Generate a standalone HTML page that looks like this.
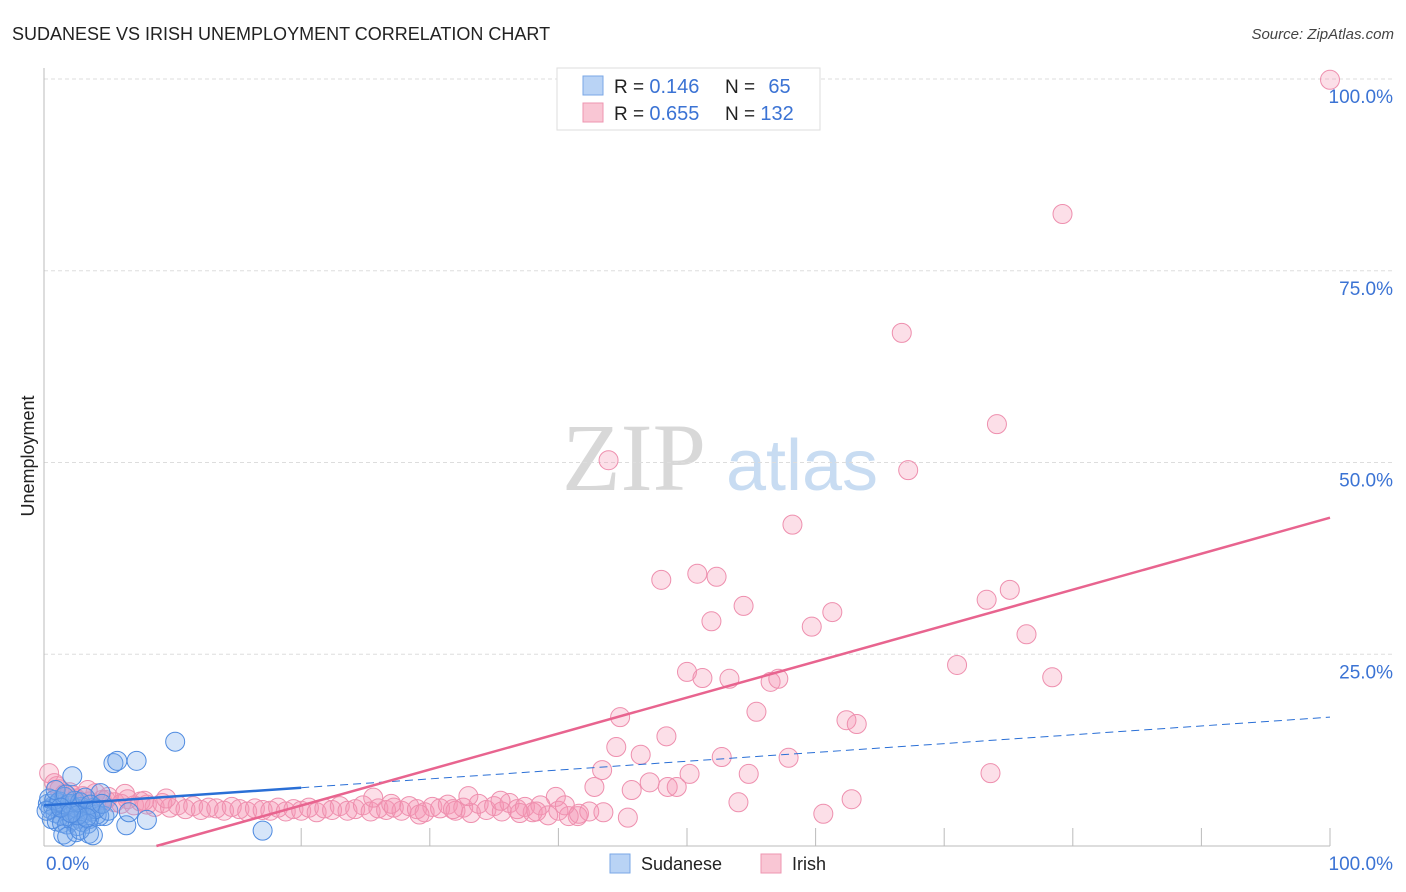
<!DOCTYPE html>
<html><head><meta charset="utf-8"><style>
body{margin:0;background:#fff;font-family:"Liberation Sans",sans-serif;}
svg{display:block}
</style></head><body>
<svg id="c" width="1406" height="892">
<text x="12" y="40" font-size="18" fill="#222">SUDANESE VS IRISH UNEMPLOYMENT CORRELATION CHART</text>
<text x="1394" y="39" font-size="15" fill="#444" font-style="italic" text-anchor="end">Source: ZipAtlas.com</text>
<text x="34" y="456" font-size="18" fill="#222" transform="rotate(-90 34 456)" text-anchor="middle">Unemployment</text>
<text x="634" y="490" font-size="96" fill="#d8d8d8" font-family="Liberation Serif,serif" text-anchor="middle">ZIP</text>
<text x="802" y="490" font-size="72" fill="#c8dcf2" text-anchor="middle">atlas</text>
<g id="grid"></g><g id="pts"></g><g id="lines"></g>
<g>
<rect x="557" y="68" width="263" height="62" fill="#fff" stroke="#ddd"/>
<rect x="583" y="76" width="20" height="19" fill="#b9d3f5" stroke="#7aa7e6"/>
<rect x="583" y="103" width="20" height="19" fill="#f9c6d4" stroke="#ee95b0"/>
<text x="614" y="93" font-size="19" fill="#222">R = <tspan fill="#3b73d4" font-size="20">0.146</tspan></text>
<text x="725" y="93" font-size="19" fill="#222">N = <tspan fill="#3b73d4" dx="8" font-size="20">65</tspan></text>
<text x="614" y="120" font-size="19" fill="#222">R = <tspan fill="#3b73d4" font-size="20">0.655</tspan></text>
<text x="725" y="120" font-size="19" fill="#222">N = <tspan fill="#3b73d4" font-size="20">132</tspan></text>
</g>
<g>
<rect x="610" y="854" width="20" height="19" fill="#b9d3f5" stroke="#7aa7e6"/>
<text x="641" y="870" font-size="18" fill="#222">Sudanese</text>
<rect x="761" y="854" width="20" height="19" fill="#f9c6d4" stroke="#ee95b0"/>
<text x="792" y="870" font-size="18" fill="#222">Irish</text>
</g>
</svg>
<script>
const yTicks=[25,50,75,100];
const yTickLabels=["25.0%","50.0%","75.0%","100.0%"];
const xTickLabels=["0.0%","100.0%"];
const irishX=[100,79.2,66.7,74.1,67.2,43.9,58.2,48.0,50.8,52.3,54.4,51.9,61.3,59.7,73.3,75.1,76.4,71.0,78.4,50.0,51.2,53.3,56.5,57.1,55.4,44.8,48.4,62.4,63.2,44.5,46.4,52.7,57.9,43.4,54.8,50.2,73.6,47.1,45.7,48.5,49.2,42.8,54.0,62.8,60.6,45.4,39.8,41.5,
0.4,0.8,1.2,1.6,2.0,2.5,3.0,3.5,4.0,4.5,5.0,5.5,6.0,6.5,7.0,7.5,8.0,8.6,9.2,9.8,10.4,11.0,11.6,12.2,12.8,13.4,14.0,14.6,15.2,15.8,16.4,17.0,17.6,18.2,18.8,19.4,20.0,20.6,21.2,21.8,22.4,23.0,23.6,24.2,24.8,25.4,26.0,26.6,27.2,27.8,28.4,29.0,29.6,30.2,30.8,31.4,32.0,32.6,33.2,33.8,34.4,35.0,35.6,36.2,36.8,37.4,38.0,38.6,39.2,40.0,40.8,41.6,42.4,1.0,2.2,3.4,4.8,6.3,7.8,9.5,29.2,33.0,37.0,35.5,25.6,38.3,40.5,31.8,27.0,43.5];
const irishY=[99.9,82.4,66.9,55.0,49.0,50.3,41.9,34.7,35.5,35.1,31.3,29.3,30.5,28.6,32.1,33.4,27.6,23.6,22.0,22.7,21.9,21.8,21.4,21.8,17.5,16.8,14.3,16.4,15.9,12.9,11.9,11.6,11.5,9.9,9.4,9.4,9.5,8.3,7.3,7.7,7.7,7.7,5.7,6.1,4.2,3.7,6.4,3.9,
9.5,8.2,7.4,6.8,7.0,6.2,6.5,5.8,6.9,6.0,6.4,5.7,5.5,6.1,5.3,5.8,5.4,5.1,5.6,5.0,5.3,4.8,5.2,4.7,5.0,4.9,4.6,5.1,4.8,4.5,4.9,4.7,4.6,5.0,4.5,4.8,4.6,5.0,4.4,4.9,4.7,5.2,4.6,4.8,5.3,4.5,4.9,4.7,5.0,4.6,5.2,4.8,4.4,5.1,4.9,5.4,4.6,5.0,4.3,5.5,4.7,5.2,4.5,5.6,4.8,5.1,4.4,5.3,4.0,4.6,3.9,4.2,4.5,7.8,6.6,7.3,6.0,6.8,5.9,6.2,4.1,6.5,4.3,5.9,6.3,4.5,5.3,4.8,5.5,4.4];
const sudX=[10.2,5.4,5.7,7.2,17.0,6.4,8.0,2.2,4.4,6.6,4.7,0.3,0.5,0.7,0.9,1.1,1.3,1.5,1.7,1.9,2.1,2.3,2.5,2.7,2.9,3.1,3.3,3.5,3.7,3.9,4.1,4.3,0.4,0.8,1.2,1.6,2.0,2.4,2.8,3.2,3.6,4.0,0.6,1.0,1.4,1.8,2.2,2.6,3.0,3.4,1.5,2.5,3.5,1.8,2.8,3.8,0.2,0.9,1.7,2.6,3.3,4.5,5.0,1.3,2.1];
const sudY=[13.6,10.8,11.1,11.1,2.0,2.7,3.4,9.1,6.9,4.4,3.9,5.5,4.8,5.2,4.3,5.6,4.0,5.0,4.6,3.8,5.3,4.4,4.9,3.6,5.1,4.2,4.7,3.5,4.5,5.0,4.1,3.9,6.2,6.0,5.8,6.4,5.5,5.9,5.7,6.3,5.4,4.8,3.5,3.2,3.0,2.8,3.3,2.6,3.1,2.9,1.5,1.8,1.6,1.2,2.1,1.4,4.6,7.3,6.7,4.0,3.7,5.5,4.6,5.0,4.3];
const sudLine=[5.3,16.8];
const irishLine=[-4.1,42.8];
const X=v=>44+v*12.86, Y=v=>846-v*7.67;
const NS="http://www.w3.org/2000/svg";
function mk(tag,attrs,parent){const e=document.createElementNS(NS,tag);for(const k in attrs)e.setAttribute(k,attrs[k]);parent.appendChild(e);return e;}
const grid=document.getElementById('grid');
yTicks.forEach((t,i)=>{
 const l=mk('line',{x1:44,x2:1395,y1:Y(t),y2:Y(t),stroke:'#ddd','stroke-dasharray':'4,3'},grid);
 
 
 const tx=mk('text',{x:1393,y:Y(t)+24,'font-size':19,fill:'#3b73d4','text-anchor':'end'},grid);
 tx.textContent=yTickLabels[i];
 
 
});
mk('line',{x1:44,x2:44,y1:68,y2:846,stroke:'#bbb'},grid);
mk('line',{x1:44,x2:1330,y1:846,y2:846,stroke:'#bbb'},grid);
for(let i=2;i<=10;i++){const x=X(i*10);mk('line',{x1:x,x2:x,y1:828,y2:846,stroke:'#bbb'},grid);}
const xl0=mk('text',{x:46,y:870,'font-size':19,fill:'#3b73d4'},grid);xl0.textContent=xTickLabels[0];


const xl1=mk('text',{x:1393,y:870,'font-size':19,fill:'#3b73d4','text-anchor':'end'},grid);xl1.textContent=xTickLabels[1];


const pts=document.getElementById('pts');
irishX.forEach((x,i)=>{const c=mk('circle',{cx:X(x),cy:Y(irishY[i]),r:9.5,fill:'rgba(244,150,180,0.3)',stroke:'#ee8fae','stroke-width':1},pts);
 
 });
sudX.forEach((x,i)=>{const c=mk('circle',{cx:X(x),cy:Y(sudY[i]),r:9.5,fill:'rgba(120,170,235,0.3)',stroke:'#4f8be0','stroke-width':1},pts);
 
 });
const lines=document.getElementById('lines');
const sy=v=>sudLine[0]+(sudLine[1]-sudLine[0])*v/100;
const s1=mk('line',{x1:X(0),y1:Y(sy(0)),x2:X(20),y2:Y(sy(20)),stroke:'#2a6fd6','stroke-width':2.5},lines);


const s2=mk('line',{x1:X(20),y1:Y(sy(20)),x2:X(100),y2:Y(sy(100)),stroke:'#2a6fd6','stroke-width':1,'stroke-dasharray':'8,5'},lines);


const iy=v=>irishLine[0]+(irishLine[1]-irishLine[0])*v/100;
const x0=-irishLine[0]/(irishLine[1]-irishLine[0])*100;
const p=mk('line',{x1:X(x0),y1:Y(0),x2:X(100),y2:Y(iy(100)),stroke:'#e8648f','stroke-width':2.5},lines);


</script>
</body></html>
